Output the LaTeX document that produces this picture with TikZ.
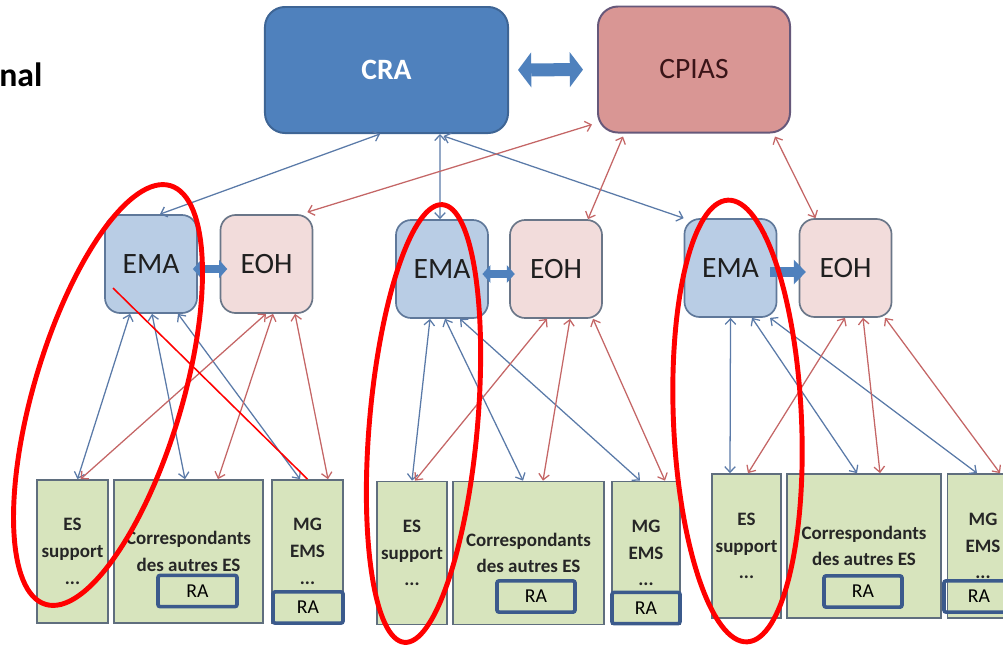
\documentclass[tikz,border=0pt]{standalone}
\usepackage{fontspec}
\setmainfont{Carlito}
\usepackage{xcolor}
\usepackage{tikz}
\usetikzlibrary{calc, positioning, arrows.meta}

\definecolor{craBlue}{HTML}{4F81BD}
\definecolor{craLine}{HTML}{3E6595}
\definecolor{cpiasRed}{HTML}{D99694}
\definecolor{cpiasLine}{HTML}{66587A}
\definecolor{cpiasText}{HTML}{3A1518}
\definecolor{emaBlue}{HTML}{B9CDE5}
\definecolor{emaLine}{HTML}{5F789A}
\definecolor{eohPink}{HTML}{F2DCDB}
\definecolor{eohLine}{HTML}{6A7688}
\definecolor{esGreen}{HTML}{D7E4BD}
\definecolor{esLine}{HTML}{5F6E7E}
\definecolor{raLine}{HTML}{3B5A8C}
\definecolor{linkBlue}{HTML}{5A7AA8}
\definecolor{linkRed}{HTML}{C46666}
\definecolor{markRed}{HTML}{FF0000}

\begin{document}
\begin{tikzpicture}[x=0.025cm, y=-0.025cm,
  topbox/.style={rounded corners=0.5cm, line width=1.4pt, inner sep=0pt, minimum height=3.15cm, font=\fontsize{21}{24}\selectfont},
  midbox/.style={rounded corners=0.38cm, line width=1.2pt, inner sep=0pt, minimum width=2.3cm, minimum height=2.45cm, text=black!88, font=\fontsize{21}{24}\selectfont},
  esbox/.style={draw=esLine, fill=esGreen, line width=1.2pt, inner sep=0pt, minimum height=3.575cm, align=center, text=black!85, font=\fontsize{13.5}{19}\selectfont\bfseries},
  rabox/.style={draw=raLine, line width=2.6pt, rounded corners=1.5pt, inner sep=0pt, minimum height=0.78cm, font=\fontsize{14}{16}\selectfont},
  blink/.style={draw=linkBlue, line width=0.9pt, {Straight Barb[length=4pt,width=7.5pt]}-{Straight Barb[length=4pt,width=7.5pt]}},
  rlink/.style={draw=linkRed, line width=0.9pt, {Straight Barb[length=4pt,width=7.5pt]}-{Straight Barb[length=4pt,width=7.5pt]}},
  bigarrow/.style={draw=craBlue, line width=0.325cm, {Triangle[width=0.875cm,length=0.33cm,line width=0pt]}-{Triangle[width=0.875cm,length=0.33cm,line width=0pt]}},
  pairarrow/.style={draw=craBlue, line width=0.18cm, {Triangle[width=0.45cm,length=0.2cm,line width=0pt]}-{Triangle[width=0.45cm,length=0.2cm,line width=0pt]}},
  onearrow/.style={draw=craBlue, line width=0.26cm, -{Triangle[width=0.62cm,length=0.3cm,line width=0pt]}},
  ring/.style={draw=markRed, line width=3.5pt}
]

\useasboundingbox (0,0) rectangle (1003,646);
\clip (0,0) rectangle (1003,646);

\node [anchor=base west, inner sep=0pt, font=\fontsize{24}{28}\selectfont\bfseries] (title) at (-1,86) {nal};

%//top row
\node [topbox, draw=craLine, fill=craBlue, text=white, minimum width=6.075cm, font=\fontsize{21}{24}\selectfont\bfseries] (cra) at (386.5,70) {CRA};
\node [topbox, draw=cpiasLine, fill=cpiasRed, text=cpiasText, minimum width=4.8cm] (cpias) at (694,69.5) {CPIAS};
\draw [bigarrow, shorten <=0.225cm, shorten >=0.35cm] (cra.east) -- (cpias.west);

%//middle row
\foreach \i/\x/\y in {1/151/264, 2/442/269, 3/730.5/268}
  \node [midbox, draw=emaLine, fill=emaBlue] (ema\i) at (\x,\y) {EMA};
\foreach \i/\x/\y in {1/266.5/264, 2/556/269, 3/845.5/268}
  \node [midbox, draw=eohLine, fill=eohPink] (eoh\i) at (\x,\y) {EOH};

\draw [pairarrow, shorten <=-0.125cm, shorten >=-0.19cm] ($(ema1.east)+(0,5)$) -- ($(eoh1.west)+(0,5)$);
\draw [pairarrow, shorten <=-0.16cm, shorten >=-0.14cm] ($(ema2.east)+(0,5)$) -- ($(eoh2.west)+(0,5)$);
\draw [onearrow, shorten <=-0.18cm, shorten >=-0.18cm] ($(ema3.east)+(0,4)$) -- ($(eoh3.west)+(0,4)$);

%//bottom row
\node [esbox, minimum width=1.775cm] (es1) at (72.5,551.5) {ES\\support\\...};
\node [esbox, minimum width=3.725cm] (corr1) at (188.5,551.5) {Correspondants\\des autres ES};
\node [esbox, minimum width=1.775cm] (mg1) at (307.5,551.5) {MG\\EMS\\...};
\node [rabox, minimum width=1.975cm] (ra1) at (197.5,591) {RA};
\node [rabox, minimum width=1.75cm] (ramg1) at (308,607.5) {RA};

\node [esbox, minimum width=1.75cm] (es2) at (412,553) {ES\\support\\...};
\node [esbox, minimum width=3.775cm] (corr2) at (528.5,553) {Correspondants\\des autres ES};
\node [esbox, minimum width=1.7cm] (mg2) at (646,553) {MG\\EMS\\...};
\node [rabox, minimum width=1.95cm] (ra2) at (536,596.5) {RA};
\node [rabox, minimum width=1.7cm] (ramg2) at (646,608) {RA};

\node [esbox, minimum width=1.725cm, minimum height=3.6cm] (es3) at (746.5,546) {ES\\support\\...};
\node [esbox, minimum width=3.85cm, minimum height=3.6cm] (corr3) at (864,546) {Correspondants\\des autres ES};
\node [esbox, minimum width=1.775cm, minimum height=3.6cm] (mg3) at (983,546) {MG\\EMS\\...};
\node [rabox, minimum width=1.95cm] (ra3) at (863,591.5) {RA};
\node [rabox, minimum width=1.75cm] (ramg3) at (979,596.5) {RA};

%//links to the top row
\draw [blink] ($(cra.south)+(-6.5,0)$) -- ($(ema1.north)+(9,0)$);
\draw [blink] ($(cra.south)+(53.5,0)$) -- ($(ema2.north)+(-2,0)$);
\draw [blink] ($(cra.south)+(57,2)$) -- (ema3.north west);
\draw [rlink] ($(cpias.south west)+(-5,-9)$) -- ($(eoh1.north east)+(-6,-2)$);
\draw [rlink] ($(cpias.south)+(-71,3)$) -- ($(eoh2.north)+(32,0)$);
\draw [rlink] ($(cpias.south)+(81,3)$) -- ($(eoh3.north)+(-30,0)$);

%//links to the bottom row
\foreach \s/\t/\u in {-21/es1/5, 1/corr1/-3.5, 27/mg1/-7.5}
  \draw [blink] ($(ema1.south)+(\s,0)$) -- ($(\t.north)+(\u,0)$);
\foreach \s/\t/\u in {-0.5/es1/8, 6.5/corr1/29.5, 28.5/mg1/20.5}
  \draw [rlink] ($(eoh1.south)+(\s,0)$) -- ($(\t.north)+(\u,0)$);

\foreach \s/\t/\u in {-12/es2/0, 3/corr2/-5.5, 18/mg2/-6}
  \draw [blink] ($(ema2.south)+(\s,0)$) -- ($(\t.north)+(\u,0)$);
\foreach \s/\t/\u in {-9/es2/3, 14/corr2/14.5, 37/mg2/19}
  \draw [rlink] ($(eoh2.south)+(\s,0)$) -- ($(\t.north)+(\u,0)$);

\foreach \s/\t/\u in {0/es3/-16.5, 21.5/corr3/-7, 39.5/mg3/-6}
  \draw [blink] ($(ema3.south)+(\s,0)$) -- ($(\t.north)+(\u,0)$);
\foreach \s/\t/\u in {-0.5/es3/1.5, 17.5/corr3/16, 39.5/mg3/17}
  \draw [rlink] ($(eoh3.south)+(\s,0)$) -- ($(\t.north)+(\u,0)$);

%//red marks
\draw [ring, rotate around={73.4:(108,395)}] (108,395) ellipse [x radius=5.46cm, y radius=1.85cm];
\draw [ring, rotate around={85:(423.5,423.5)}] (423.5,423.5) ellipse [x radius=5.49cm, y radius=1.35cm];
\draw [ring, rotate around={92.5:(737.5,421)}] (737.5,421) ellipse [x radius=5.525cm, y radius=1.6cm];
\draw [draw=markRed, line width=1.1pt] ($(ema1.center)+(-38,24)$) -- (mg1.north);

\end{tikzpicture}
\end{document}
